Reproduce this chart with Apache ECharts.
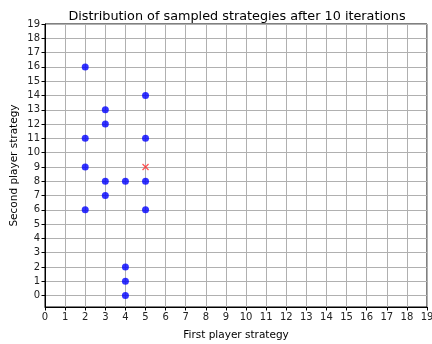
<!DOCTYPE html>
<html>
<head>
<meta charset="utf-8">
<script src="https://cdn.jsdelivr.net/npm/echarts@6/dist/echarts.min.js"></script>
<style>
  html, body { margin: 0; padding: 0; background: #fff; }
  #chart { width: 432px; height: 344px; }
</style>
</head>
<body>
<div id="chart"></div>
<script>
// Sampled strategy pairs (first player, second player)
const firstStrategies  = [2, 3, 3, 2, 5, 5, 2, 3, 4, 5, 3, 2, 5, 4, 4, 4];
const secondStrategies = [16, 13, 12, 11, 14, 11, 9, 8, 8, 8, 7, 6, 6, 2, 1, 0];
// Highlighted strategy pair
const markedFirst  = [5];
const markedSecond = [9];
// Integer tick positions on both axes
const xTicks = [0, 1, 2, 3, 4, 5, 6, 7, 8, 9, 10, 11, 12, 13, 14, 15, 16, 17, 18, 19];
const yTicks = [0, 1, 2, 3, 4, 5, 6, 7, 8, 9, 10, 11, 12, 13, 14, 15, 16, 17, 18, 19];

const font = 'DejaVu Sans';
const pairs = (a, b) => a.map((v, i) => [v, b[i]]);

function axisCommon(name, ticks, labelMargin) {
  return {
    type: 'value',
    name: name,
    nameLocation: 'middle',
    nameMoveOverlap: false,
    nameTextStyle: { color: '#000', fontSize: 10.5, fontFamily: font },
    axisLine: { onZero: false, lineStyle: { color: '#000', width: 1 } },
    axisTick: { show: true, length: 3.5, inside: false, customValues: ticks,
                lineStyle: { color: '#000', width: 1 } },
    axisLabel: { customValues: ticks, color: '#222', fontSize: 10, fontFamily: font,
                 margin: labelMargin },
    splitLine: { show: true, lineStyle: { color: '#b0b0b0', width: 1 } }
  };
}

const chart = echarts.init(document.getElementById('chart'), null, { renderer: 'canvas' });
chart.setOption({
  animation: false,
  backgroundColor: '#fff',
  title: {
    text: 'Distribution of sampled strategies after 10 iterations',
    left: 232, top: 5, textAlign: 'center',
    textStyle: { color: '#000', fontSize: 12.8, fontWeight: 'normal', fontFamily: font }
  },
  grid: { left: 45, right: 5, top: 24, bottom: 37, show: true,
          outerBoundsMode: 'none', containLabel: false,
          borderColor: '#000', borderWidth: 1, backgroundColor: 'transparent' },
  xAxis: Object.assign(axisCommon('First player strategy', xTicks, 5),
                       { min: 0, max: 19, nameGap: 23 }),
  yAxis: Object.assign(axisCommon('Second player strategy', yTicks, 5),
                       { min: -0.8, max: 19, nameGap: 25 }),
  series: [
    {
      type: 'scatter',
      data: pairs(firstStrategies, secondStrategies),
      symbol: 'circle',
      symbolSize: 7,
      itemStyle: { color: '#0000ff' },
      z: 3
    },
    {
      type: 'scatter',
      data: pairs(markedFirst, markedSecond),
      symbol: 'path://M0,0L10,10M10,0L0,10',
      symbolSize: 6,
      itemStyle: { color: 'rgba(0,0,0,0)', borderColor: '#ff2a2a', borderWidth: 1.3 },
      z: 4
    }
  ]
});
</script>
</body>
</html>
